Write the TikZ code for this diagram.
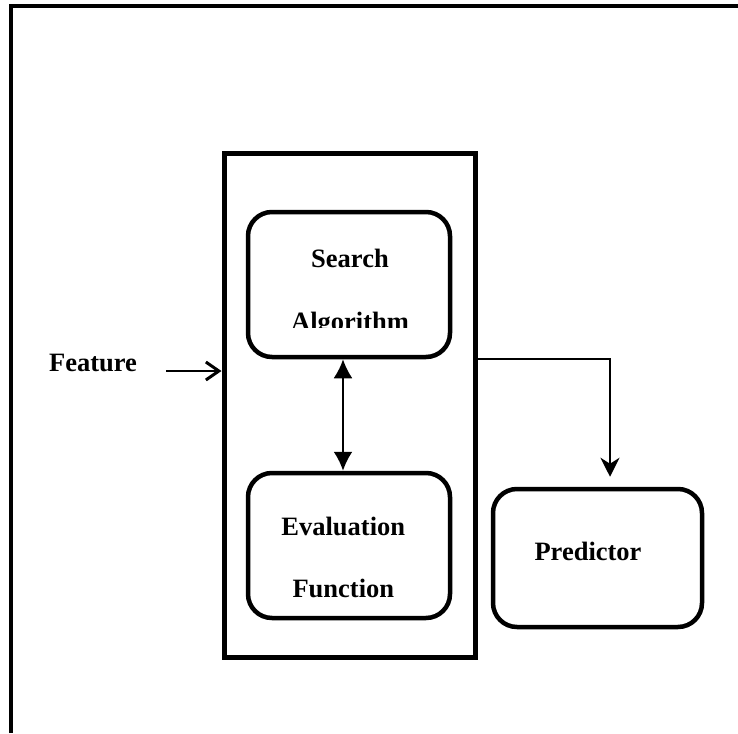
\documentclass[tikz,border=0pt]{standalone}
\usepackage{fontspec}
\setmainfont{Liberation Serif}
\usetikzlibrary{arrows.meta,calc}
\begin{document}
\begin{tikzpicture}[x=1pt,y=-1pt,
  box/.style={draw,line width=4.5pt,rounded corners=24pt,minimum width=202pt,minimum height=145pt,inner sep=0pt},
  outerbox/.style={draw,line width=5pt,minimum width=251pt,minimum height=504pt,inner sep=0pt},
  lbl/.style={anchor=base,inner sep=0pt,font=\fontsize{26.5}{30}\selectfont\bfseries},
  conn/.style={line width=2.2pt}]
\useasboundingbox (0,0) rectangle (738,733);
% frame
\draw[line width=3.5pt] (11,733) -- (11,6) -- (738,6);
% boxes
\node[outerbox] (outer) at (349.5,405.5) {};
\node[box] (sa) at (349,284.5) {};
\node[box] (ef) at (349,545.5) {};
\node[box,minimum width=209pt,minimum height=138pt] (pr) at (597.5,558) {};
% labels
\node[lbl] (t1) at (350,267) {Search};
\begin{scope}
\clip (240,290) rectangle (460,327);
\node[lbl] (t2) at (350,330) {Algorithm};
\end{scope}
\node[lbl] (t3) at (343.3,535) {Evaluation};
\node[lbl] (t4) at (343.3,597) {Function};
\node[lbl] (t5) at (588,560) {Predictor};
\node[lbl] (feat) at (93,371) {Feature};
% connectors
\draw[conn,{Latex[length=19pt,width=19pt]}-{Latex[length=19pt,width=19pt]}] ([xshift=-6pt]sa.south) -- ([xshift=-6pt]ef.north);
\draw[line width=2.6pt,-{Straight Barb[length=13pt,width=18pt,line width=3pt]}] ([xshift=29pt]feat.base east) -- (feat.base east -| outer.west);
\draw[line width=1.8pt,-{Stealth[length=19pt,width=19pt,inset=6pt]}] (outer.east |- sa.south) -| ([xshift=12.5pt,yshift=10pt]pr.north);
\end{tikzpicture}
\end{document}
